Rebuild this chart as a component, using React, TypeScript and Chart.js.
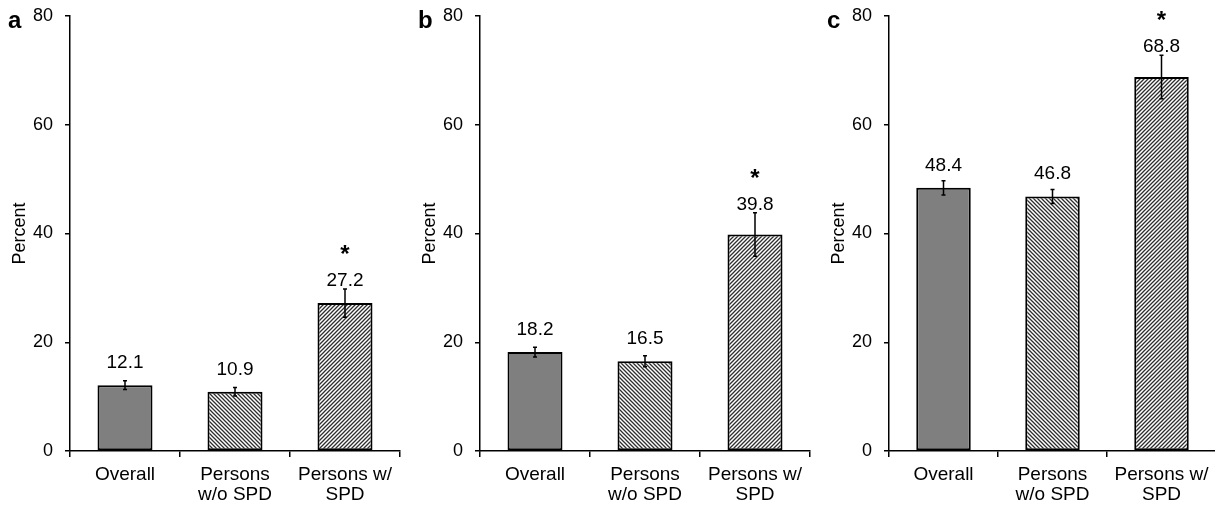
import React, { useEffect, useRef } from "react";
import { Chart, registerables } from "chart.js";

Chart.register(...registerables);

const categories: string[][] = [["Overall"], ["Persons", "w/o SPD"], ["Persons w/", "SPD"]];
const panelLetters = ["a", "b", "c"];
const valuesA = [12.1, 10.9, 27.2];
const valuesB = [18.2, 16.5, 39.8];
const valuesC = [48.4, 46.8, 68.8];
const errorsA = [0.8, 0.8, 2.6];
const errorsB = [0.9, 1.0, 4.0];
const errorsC = [1.3, 1.3, 4.0];
const significant = [false, false, true];
const yMin = 0;
const yMax = 80;
const yStep = 20;
const yTitle = "Percent";

const FONT = '"Liberation Sans", Arial, sans-serif';

function makeHatch(dir: "back" | "fwd", size: number): CanvasPattern | string {
  const c = document.createElement("canvas");
  c.width = size;
  c.height = size;
  const g = c.getContext("2d");
  if (!g) return "#aaa";
  g.fillStyle = "#ffffff";
  g.fillRect(0, 0, size, size);
  g.strokeStyle = "#2e2e2e";
  g.lineWidth = 1.3;
  g.beginPath();
  if (dir === "back") {
    g.moveTo(-1, -1);
    g.lineTo(size + 1, size + 1);
    g.moveTo(-1, size - 1);
    g.lineTo(1, size + 1);
    g.moveTo(size - 1, -1);
    g.lineTo(size + 1, 1);
  } else {
    g.moveTo(-1, size + 1);
    g.lineTo(size + 1, -1);
    g.moveTo(-1, 1);
    g.lineTo(1, -1);
    g.moveTo(size - 1, size + 1);
    g.lineTo(size + 1, size - 1);
  }
  g.stroke();
  return g.createPattern(c, "repeat") || "#aaa";
}

const overlayPlugin = {
  id: "overlay",
  afterDatasetsDraw(chart: any, _args: any, opts: any) {
    const { ctx } = chart;
    const meta = chart.getDatasetMeta(0);
    const y = chart.scales.y;
    const values: number[] = opts.values;
    const errors: number[] = opts.errors;
    ctx.save();
    meta.data.forEach((bar: any, i: number) => {
      const x = bar.x;
      const top = y.getPixelForValue(values[i] + errors[i]);
      const bot = y.getPixelForValue(values[i] - errors[i]);
      ctx.strokeStyle = "#000";
      ctx.lineWidth = 1.5;
      ctx.beginPath();
      ctx.moveTo(x, top);
      ctx.lineTo(x, bot);
      ctx.moveTo(x - 2, top);
      ctx.lineTo(x + 2, top);
      ctx.moveTo(x - 2, bot);
      ctx.lineTo(x + 2, bot);
      ctx.stroke();
      const barTop = y.getPixelForValue(values[i]);
      const labelCenter = Math.min(barTop - 24, top - 10);
      ctx.fillStyle = "#000";
      ctx.textAlign = "center";
      ctx.textBaseline = "alphabetic";
      ctx.font = `19px ${FONT}`;
      ctx.fillText(values[i].toFixed(1), x, labelCenter + 0.358 * 19);
      if (significant[i]) {
        ctx.font = `bold 24px ${FONT}`;
        ctx.fillText("*", x, labelCenter - 31 + 0.57 * 24);
      }
    });
    ctx.font = `bold 24px ${FONT}`;
    ctx.textAlign = "left";
    ctx.textBaseline = "alphabetic";
    ctx.fillStyle = "#000";
    ctx.fillText(opts.letter, chart.chartArea.left - 62, 28);
    ctx.restore();
  },
};

function Panel(props: { left: number; rightPad: number; values: number[]; errors: number[]; letter: string }) {
  const ref = useRef<HTMLCanvasElement | null>(null);
  useEffect(() => {
    if (!ref.current) return;
    const colors = ["#7f7f7f", makeHatch("back", 4), makeHatch("fwd", 4)];
    const chart = new Chart(ref.current, {
      type: "bar",
      data: {
        labels: categories,
        datasets: [
          {
            data: props.values,
            backgroundColor: colors as any,
            borderColor: "#000",
            borderWidth: 2,
            borderSkipped: false,
            barPercentage: 0.5,
            categoryPercentage: 1,
          },
        ],
      },
      options: {
        animation: false,
        responsive: false,
        maintainAspectRatio: false,
        layout: { padding: { top: 16, right: props.rightPad, bottom: 0, left: 0 } },
        plugins: {
          legend: { display: false },
          tooltip: { enabled: false },
          overlay: { values: props.values, errors: props.errors, letter: props.letter },
        } as any,
        scales: {
          x: {
            afterFit: (s: any) => {
              s.height = 57;
              s.paddingLeft = 0;
              s.paddingRight = 0;
            },
            grid: {
              display: true,
              drawOnChartArea: false,
              drawTicks: true,
              tickLength: 6,
              color: "#000",
              lineWidth: 1.5,
              offset: true,
            },
            border: { display: true, color: "#000", width: 1.5 },
            ticks: {
              color: "#000",
              font: { family: FONT, size: 19, lineHeight: 1.05 },
              padding: 8,
              maxRotation: 0,
              minRotation: 0,
              autoSkip: false,
            },
          },
          y: {
            min: yMin,
            max: yMax,
            afterFit: (s: any) => {
              s.width = 70;
              s.paddingTop = 0;
              s.paddingBottom = 0;
            },
            ticks: {
              stepSize: yStep,
              padding: 12,
              color: "#000",
              font: { family: FONT, size: 18 },
            },
            grid: {
              display: true,
              drawOnChartArea: false,
              drawTicks: true,
              tickLength: 5,
              color: "#000",
              lineWidth: 1.5,
            },
            border: { display: true, color: "#000", width: 1.5 },
            title: {
              display: true,
              text: yTitle,
              color: "#000",
              font: { family: FONT, size: 18 },
              padding: { top: 9, bottom: 0 },
            },
          },
        },
      },
      plugins: [overlayPlugin as any],
    });
    return () => chart.destroy();
  }, []);
  return (
    <div style={{ position: "absolute", left: props.left, top: 0, width: 405, height: 508 }}>
      <canvas ref={ref} width={405} height={508} style={{ display: "block", width: 405, height: 508 }} />
    </div>
  );
}

export default function App() {
  return (
    <div
      style={{
        position: "absolute",
        left: 0,
        top: 0,
        width: 1215,
        height: 508,
        overflow: "hidden",
        background: "#fff",
      }}
    >
      <Panel left={0} rightPad={5} values={valuesA} errors={errorsA} letter={panelLetters[0]} />
      <Panel left={410} rightPad={5} values={valuesB} errors={errorsB} letter={panelLetters[1]} />
      <Panel left={819} rightPad={8} values={valuesC} errors={errorsC} letter={panelLetters[2]} />
    </div>
  );
}
